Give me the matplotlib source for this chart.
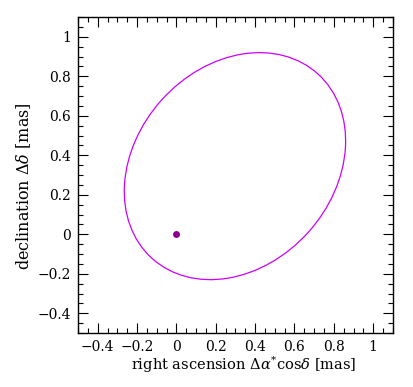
import matplotlib
matplotlib.use("Agg")
import matplotlib.pyplot as plt
from matplotlib.patches import Ellipse
from matplotlib.ticker import MultipleLocator, FuncFormatter

# Data
ellipse_center = (0.2975, 0.345)   # mas
ellipse_width = 1.258              # mas (major axis)
ellipse_height = 1.002             # mas (minor axis)
ellipse_angle = 47.8               # deg
point_x = [0.0]
point_y = [0.0]
xlim = (-0.5, 1.1)
ylim = (-0.5, 1.1)

plt.rcParams['font.family'] = ['DejaVu Serif']
plt.rcParams['mathtext.fontset'] = 'dejavuserif'

fig = plt.figure(figsize=(4.14, 3.87), dpi=100)
ax = fig.add_axes([0.1884, 0.1395, 0.7606, 0.8165])

e = Ellipse(ellipse_center, ellipse_width, ellipse_height, angle=ellipse_angle,
            fill=False, edgecolor='#cc00ff', linewidth=0.9)
ax.add_patch(e)
ax.plot(point_x, point_y, 'o', color='#8b0090', markersize=5, markeredgewidth=0)

ax.set_xlim(*xlim)
ax.set_ylim(*ylim)
for a in (ax.xaxis, ax.yaxis):
    a.set_major_locator(MultipleLocator(0.2))
    a.set_minor_locator(MultipleLocator(0.05))
    a.set_major_formatter(FuncFormatter(lambda v, p: ('%g' % round(v, 3)).replace('-', '\u2212')))
ax.tick_params(which='both', direction='in', top=True, right=True, width=0.8, labelsize=10, colors='black')
ax.tick_params(which='major', length=7.2, pad=5)
ax.tick_params(which='minor', length=3.6)
for s in ax.spines.values():
    s.set_linewidth(1.0)

ax.set_xlabel(r'right ascension $\Delta\alpha^{*}\mathrm{cos}\delta$ [mas]', fontsize=10.5)
ax.set_ylabel(r'declination $\Delta\delta$ [mas]', fontsize=11.5)
ax.xaxis.set_label_coords(0.525, -0.068)
ax.yaxis.set_label_coords(-0.143, 0.465)

fig.savefig('out.png', dpi=100)
